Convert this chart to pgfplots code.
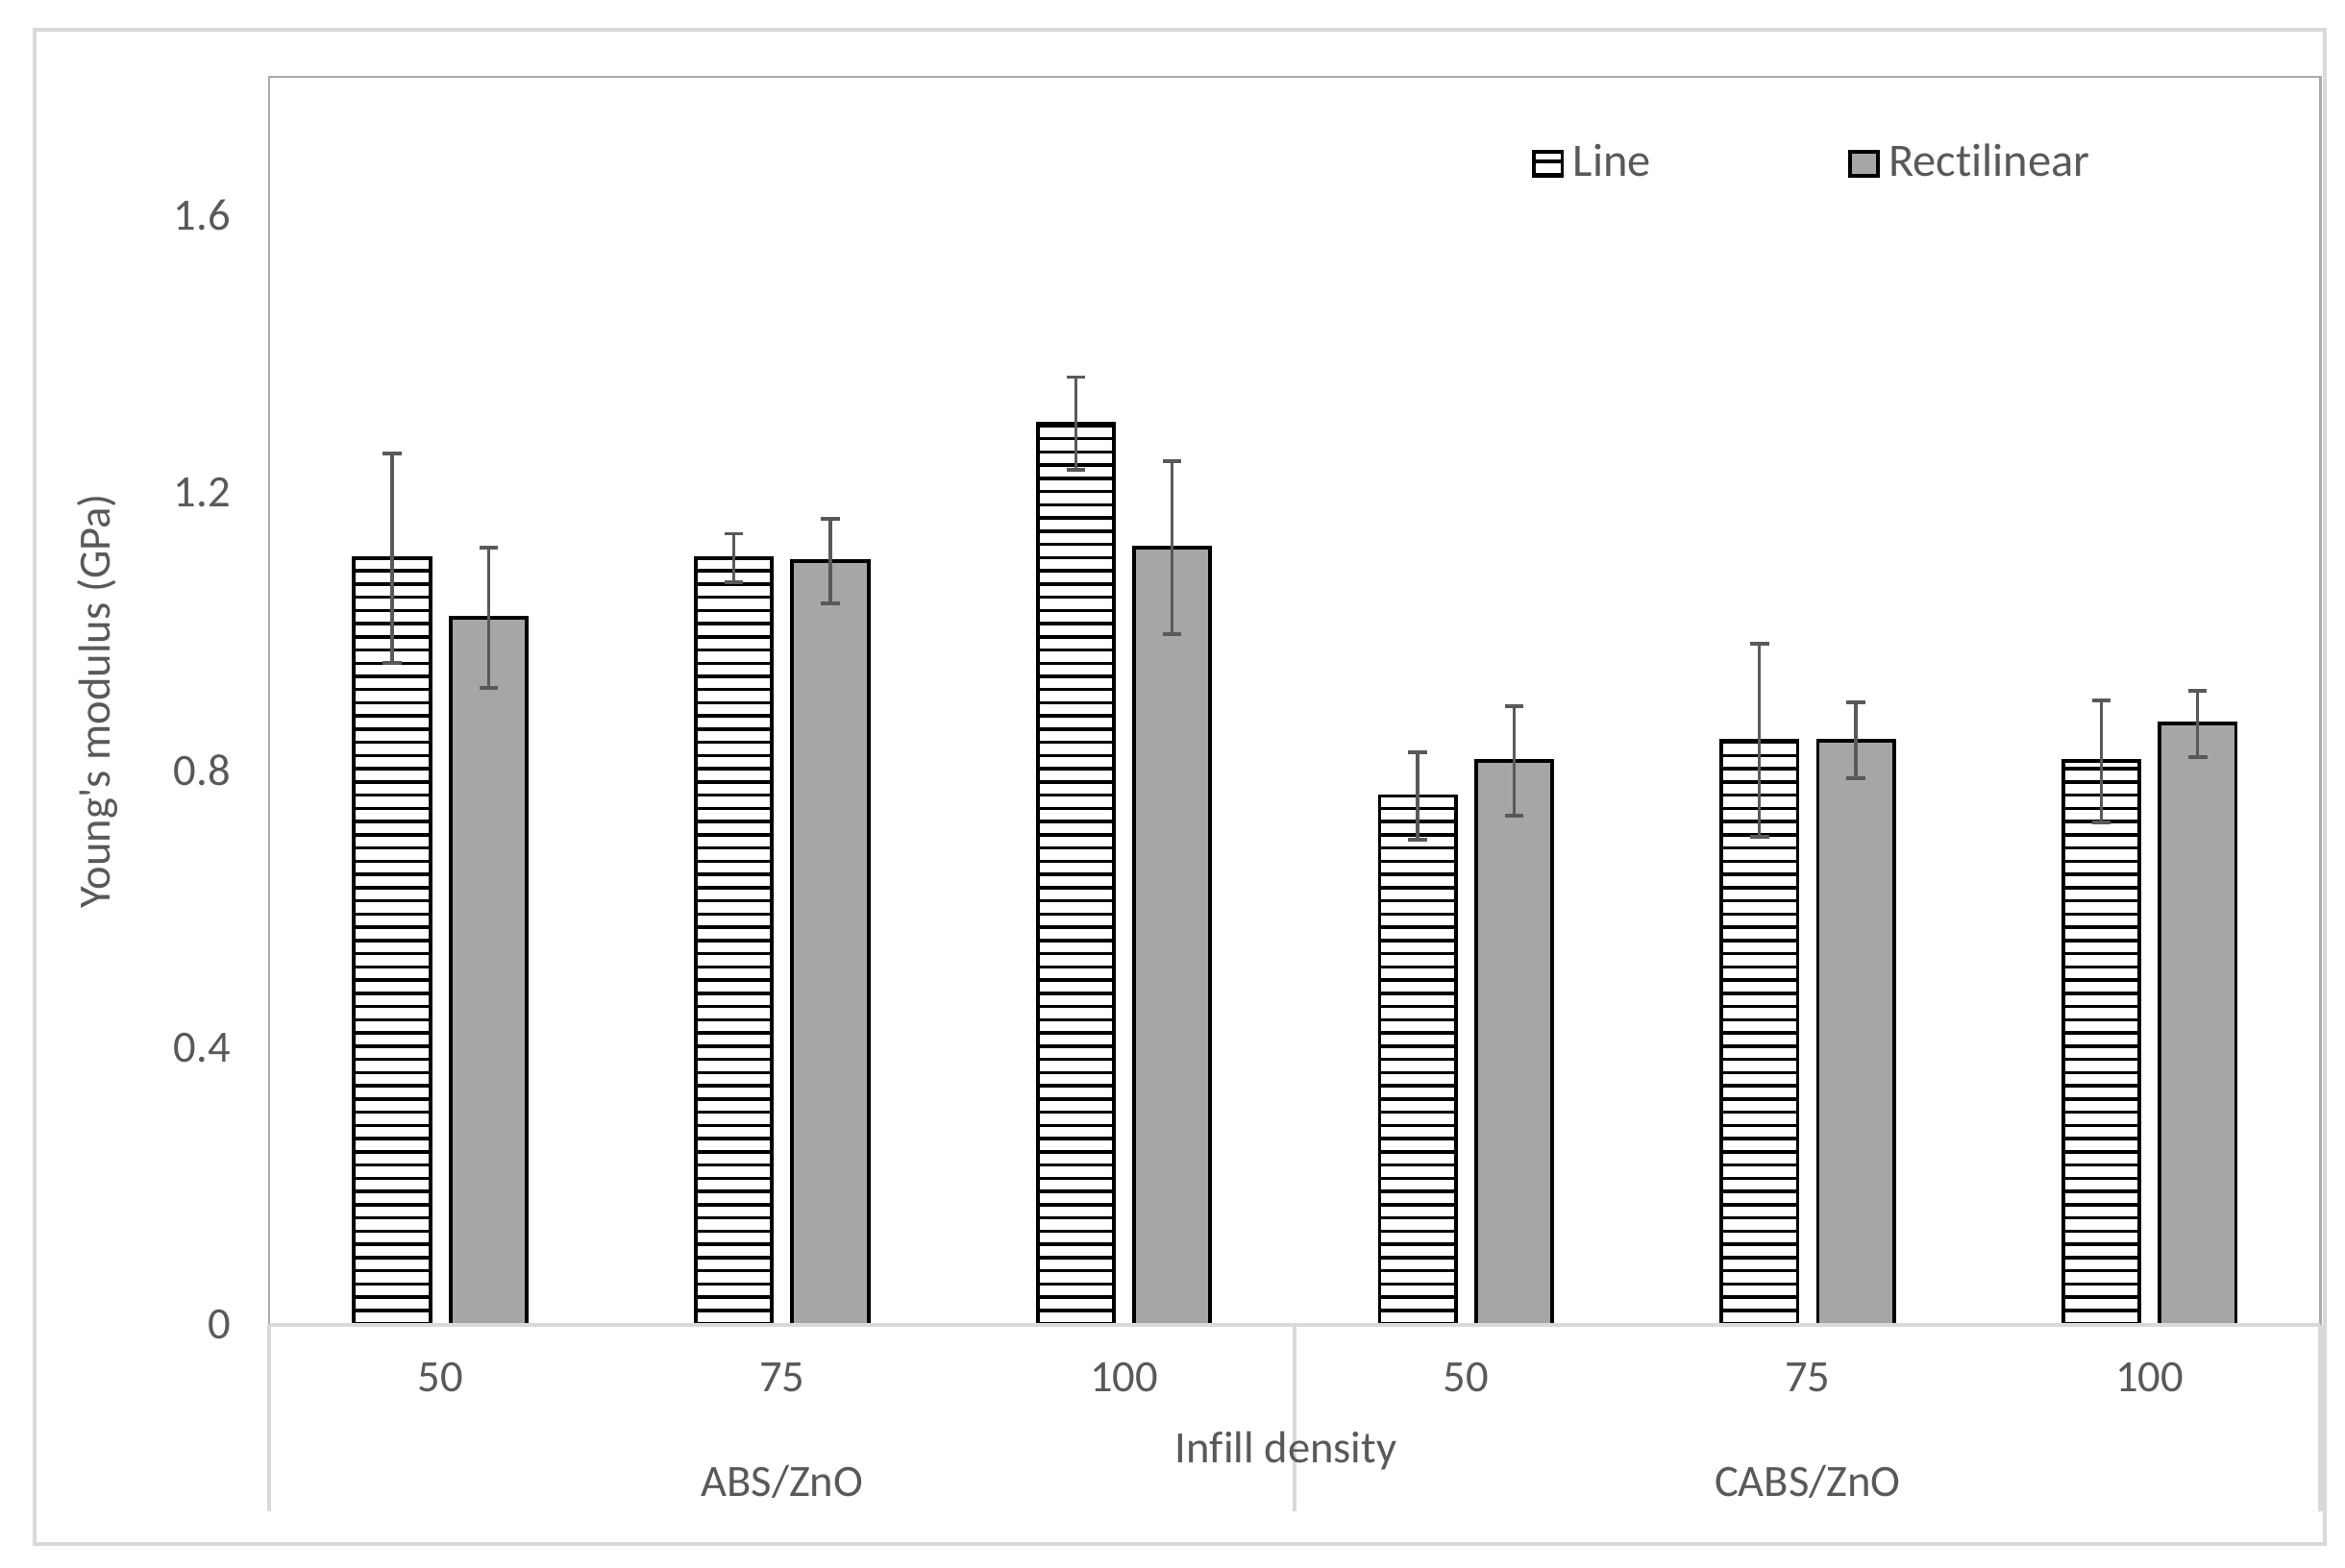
\documentclass[border=0pt]{standalone}
\usepackage{fontspec}
\setmainfont{Carlito}[Ligatures={NoCommon}]
\usepackage{pgfplots}
\usepackage{pgfplotstable}
\pgfplotsset{compat=1.18}
\usetikzlibrary{patterns}

\definecolor{barfill}{HTML}{A6A6A6}
\definecolor{errcol}{HTML}{595959}
\definecolor{txtcol}{HTML}{595959}
\definecolor{framecol}{HTML}{D9D9D9}
\definecolor{boxcol}{HTML}{ABABAB}

% narrow horizontal lines, as in the Excel fill
\pgfdeclarepatternformonly{hlines}{\pgfpoint{-1pt}{0pt}}{\pgfpoint{11pt}{2.95pt}}{\pgfpoint{10pt}{2.95pt}}{%
  \pgfsetlinewidth{0.75pt}%
  \pgfpathmoveto{\pgfpoint{-1pt}{1.475pt}}\pgfpathlineto{\pgfpoint{11pt}{1.475pt}}\pgfusepath{stroke}}

% x: 1-3 ABS/ZnO (50,75,100), 4-6 CABS/ZnO (50,75,100)
\pgfplotstableread{
x y e
1 1.106 0.151
2 1.106 0.035
3 1.300 0.067
4 0.763 0.063
5 0.843 0.139
6 0.813 0.088
}\lineTab
\pgfplotstableread{
x y e
1 1.020 0.101
2 1.102 0.061
3 1.121 0.125
4 0.813 0.079
5 0.843 0.055
6 0.867 0.048
}\rectTab

\begin{document}
\begin{tikzpicture}
\begin{axis}[
  at={(60.15pt,54.3pt)}, anchor=south west,
  scale only axis, width=457.95pt, height=278.7pt,
  xmin=0.5, xmax=6.5, ymin=0, ymax=1.8,
  ybar, bar width=0.223,
  xtick={1,2,3,4,5,6}, xticklabels={50,75,100,50,75,100},
  ytick={0,0.4,0.8,1.2,1.6}, yticklabels={0,0.4,0.8,1.2,1.6},
  major tick length=0pt,
  axis line style={draw=boxcol, line width=0.5pt},
  tick label style={font=\fontsize{10}{12}\selectfont, text=txtcol},
  xticklabel style={anchor=center, yshift=-11.7pt},
  yticklabel style={anchor=east, inner sep=0pt, xshift=-8.5pt},
  clip=false,
  ylabel={Young\textquotesingle s modulus (GPa)},
  ylabel style={at={(axis description cs:-0.0836,0.5)}, anchor=center, font=\fontsize{10}{12}\selectfont, text=txtcol},
  xlabel={Infill density},
  xlabel style={at={(axis description cs:0.4957,-0.1009)}, anchor=center, font=\fontsize{10}{12}\selectfont, text=txtcol},
  legend columns=2,
  legend image code/.code={\draw[#1, line width=0.8pt] (0pt,-2.7pt) rectangle (6.3pt,2.7pt);},
  legend style={at={(axis description cs:0.6153,0.9304)}, anchor=west, draw=none, fill=none,
    inner sep=0pt, font=\fontsize{10.4}{12}\selectfont, text=txtcol,
    /tikz/every even column/.append style={column sep=42pt}},
  error bars/y dir=both, error bars/y explicit,
  error bars/error bar style={errcol, line width=0.75pt},
  error bars/error mark options={errcol, rotate=90, mark size=2.1pt, line width=0.8pt},
]
\addplot[draw=black, line width=0.8pt, pattern=hlines, pattern color=black, bar shift=-0.141]
  table[x=x, y=y, y error=e] {\lineTab};
\addplot[draw=black, line width=0.8pt, fill=barfill, bar shift=0.141]
  table[x=x, y=y, y error=e] {\rectTab};
\legend{Line, Rectilinear}

% category axis lines below the plot
\draw[framecol, line width=0.9pt] (rel axis cs:0,0) -- (rel axis cs:1,0);
\draw[framecol, line width=0.9pt] (axis description cs:0,0) -- (axis description cs:0,-0.1496);
\draw[framecol, line width=0.9pt] (axis description cs:0.5,0) -- (axis description cs:0.5,-0.1496);
\draw[framecol, line width=0.9pt] (axis description cs:1,0) -- (axis description cs:1,-0.1496);
\node[font=\fontsize{10}{12}\selectfont, text=txtcol] at (axis description cs:0.25,-0.126) {ABS/ZnO};
\node[font=\fontsize{10}{12}\selectfont, text=txtcol] at (axis description cs:0.75,-0.126) {CABS/ZnO};
\end{axis}
% chart area border
\draw[framecol, line width=0.9pt] (7.8pt,5.4pt) rectangle (519.0pt,343.5pt);
\pgfresetboundingbox
\useasboundingbox (0,0) rectangle (523.6pt,350.2pt);
\end{tikzpicture}
\end{document}
